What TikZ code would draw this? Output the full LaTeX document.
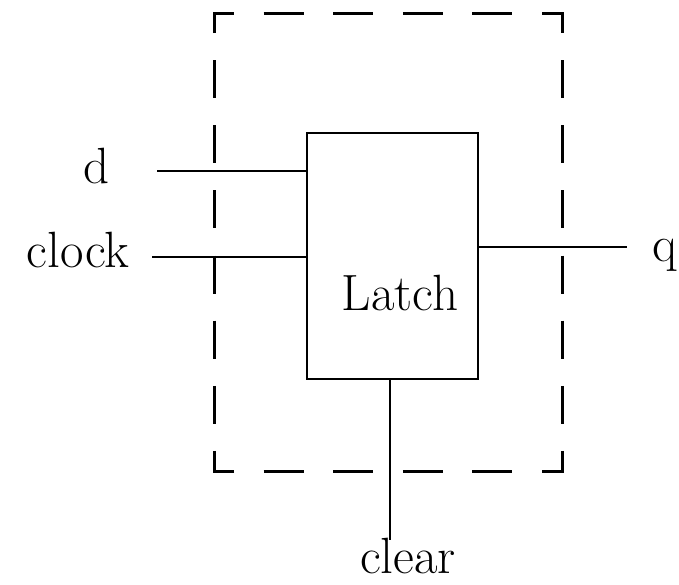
\documentclass[tikz,border=0pt]{standalone}
\usetikzlibrary{calc}
\begin{document}
\begin{tikzpicture}[x=1pt,y=-1pt,
  lbl/.style={font=\fontsize{51}{60}\selectfont, inner sep=0pt, anchor=base},
  wire/.style={line width=2.8pt},
  dbox/.style={line width=3pt, line join=miter},
  hdash/.style={dbox, dash pattern=on 40pt off 29.6pt, dash phase=40pt},
  vdash/.style={dbox, dash pattern=on 38pt off 27.14pt, dash phase=38pt}]
\useasboundingbox (0,0) rectangle (679,584);
% latch block
\node[draw, line width=2.8pt, minimum width=171pt, minimum height=246pt, inner sep=0pt] (latch) at (392.5,256) {};
\node[lbl] (latchtxt) at (400,310) {Latch};
% labels
\node[lbl] (dtxt) at (97,183) {d};
\node[lbl] (clocktxt) at (78,267) {clock};
\node[lbl] (qtxt) at (665,261) {q};
\node[lbl] (cleartxt) at (408,573) {clear};
% wire ends
\coordinate (dend) at (157,171);
\coordinate (clkend) at (152,257);
\coordinate (qend) at (627,247);
\coordinate (clrend) at (390,540);
\draw[wire] (dend) -- (dend -| latch.west);
\draw[wire] (clkend) -- (clkend -| latch.west);
\draw[wire] (latch.east |- qend) -- (qend);
\draw[wire] (latch.south -| clrend) -- (clrend);
% dashed enclosure
\coordinate (TL) at (214,13);
\coordinate (TR) at (562,13);
\coordinate (BR) at (562,471);
\coordinate (BL) at (214,471);
\draw[dbox] ($(TL)+(0,20)$) -- (TL) -- ($(TL)+(20,0)$);
\draw[dbox] ($(TR)+(-20,0)$) -- (TR) -- ($(TR)+(0,20)$);
\draw[dbox] ($(BR)+(0,-20)$) -- (BR) -- ($(BR)+(-20,0)$);
\draw[dbox] ($(BL)+(20,0)$) -- (BL) -- ($(BL)+(0,-20)$);
\draw[hdash] ($(TL)+(20,0)$) -- ($(TR)+(-20,0)$);
\draw[hdash] ($(BL)+(20,0)$) -- ($(BR)+(-20,0)$);
\draw[vdash] ($(TL)+(0,20)$) -- ($(BL)+(0,-20)$);
\draw[vdash] ($(TR)+(0,20)$) -- ($(BR)+(0,-20)$);
\end{tikzpicture}
\end{document}
